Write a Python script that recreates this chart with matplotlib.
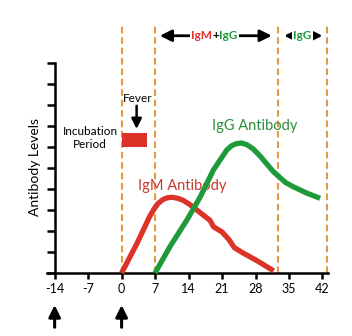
import matplotlib
matplotlib.use("Agg")
import matplotlib.pyplot as plt
from matplotlib.offsetbox import TextArea, HPacker, AnnotationBbox

# Antibody response timeline (days relative to symptom onset)
igm_days = [0, 3.2, 5.9, 6.8, 7.6, 8.7, 9.6, 10.6, 11.8, 12.9, 14.3, 15.7, 18.5,
            19.2, 21.0, 22.4, 23.6, 25.4, 28.2, 31.8]
igm_level = [0, 1.4, 2.7, 3.05, 3.3, 3.5, 3.58, 3.6, 3.55, 3.45, 3.25, 3.0, 2.5,
             2.2, 1.95, 1.6, 1.2, 0.95, 0.6, 0.1]

igg_days = [7, 10.1, 13.6, 16.4, 19.2, 22.0, 23.0, 24.0, 25.1, 26.2, 27.5, 29.0,
            30.3, 31.6, 32.8, 34.3, 35.9, 38.7, 41.5]
igg_level = [0, 1.25, 2.5, 3.6, 4.9, 5.85, 6.05, 6.15, 6.18, 6.1, 5.9, 5.55,
             5.2, 4.85, 4.6, 4.3, 4.1, 3.8, 3.55]

x_ticks = [-14, -7, 0, 7, 14, 21, 28, 35, 42]
y_ticks = list(range(0, 11))
phase_bounds = [0, 7, 32.6, 42.9]
fever_span = (0, 5.4)
fever_band = (6.0, 6.64)

RED = "#DC3328"
GREEN = "#1F9A3B"
DASH = "#E49A45"
SANS = ["Lato", "DejaVu Sans"]

plt.rcParams["font.family"] = SANS

fig = plt.figure(figsize=(3.52, 3.36), dpi=100)
ax = fig.add_axes([0.1335, 0.1875, 0.7989, 0.7512])
ax.set_xlim(-15.6, 43.2)
ax.set_ylim(0, 12)

# phase boundaries
for xb in phase_bounds:
    ax.plot([xb, xb], [0, 11.8], color=DASH, lw=1.5, ls=(0, (3.2, 1.8)), zorder=1)

# antibody curves
ax.plot(igm_days, igm_level, color=RED, lw=3.8, solid_joinstyle="round",
        solid_capstyle="butt", clip_on=False, zorder=3)
ax.plot(igg_days, igg_level, color=GREEN, lw=3.8, solid_joinstyle="round",
        solid_capstyle="butt", clip_on=False, zorder=4)

# fever period bar and arrow
ax.fill_between(fever_span, fever_band[0], fever_band[1], color=RED, lw=0, zorder=3)
ax.annotate("", xy=(3.14, 6.85), xytext=(3.14, 7.95),
            arrowprops=dict(arrowstyle="-|>,head_length=0.6,head_width=0.3",
                            color="black", lw=1.8, shrinkA=0, shrinkB=0,
                            mutation_scale=10))
ax.text(3.3, 8.3, "Fever", ha="center", va="center", fontsize=8.5, color="black")
ax.text(-6.6, 6.42, "Incubation\nPeriod", ha="center", va="center", fontsize=8.5,
        color="black", linespacing=1.2)

# curve labels
ax.text(12.6, 4.14, "IgM Antibody", ha="center", va="center", fontsize=10.5,
        color="#C9382D")
ax.text(27.8, 7.0, "IgG Antibody", ha="center", va="center", fontsize=10.5,
        color="#2E8E3C")

# phase arrows along the top
arrow_kw = dict(arrowstyle="-|>,head_length=0.7,head_width=0.35", color="black",
                lw=2.0, shrinkA=0, shrinkB=0, mutation_scale=10)
ytop = 11.28
for start, end in [(14.4, 8.0), (24.2, 31.4), (36.0, 34.0), (39.5, 42.0)]:
    ax.annotate("", xy=(end, ytop), xytext=(start, ytop), arrowprops=arrow_kw,
                annotation_clip=False, zorder=2)

def colored_label(parts, x, y):
    boxes = [TextArea(t, textprops=dict(color=c, fontsize=8.5, fontweight="bold"))
             for t, c in parts]
    pack = HPacker(children=boxes, align="center", pad=0, sep=0)
    ab = AnnotationBbox(pack, (x, y), frameon=True, box_alignment=(0.5, 0.5),
                        pad=0.1, annotation_clip=False,
                        bboxprops=dict(facecolor="white", edgecolor="none"))
    ab.set_zorder(5)
    ax.add_artist(ab)

colored_label([("IgM", RED), ("+", "black"), ("IgG", GREEN)], 19.36, ytop)
colored_label([("IgG", GREEN)], 37.8, ytop)

# axes styling
for s in ["top", "right"]:
    ax.spines[s].set_visible(False)
ax.spines["left"].set_position(("data", -14))
ax.spines["left"].set_bounds(0, 10)
ax.spines["left"].set_linewidth(1.8)
ax.spines["bottom"].set_linewidth(1.8)
ax.set_xticks(x_ticks)
ax.set_xticklabels([str(v) for v in x_ticks])
ax.set_yticks(y_ticks)
ax.set_yticklabels([])
ax.tick_params(axis="x", direction="out", length=4.5, width=1.8, labelsize=9, pad=3)
ax.tick_params(axis="y", direction="out", length=5.8, width=1.8)
ax.set_ylabel("Antibody Levels", fontsize=10)
ax.yaxis.set_label_coords(-0.02, 0.42)

# markers under the time axis
for xd in [-14, 0]:
    ax.annotate("", xy=(xd, -0.127), xytext=(xd, -0.215),
                xycoords=ax.get_xaxis_transform(), textcoords=ax.get_xaxis_transform(),
                arrowprops=dict(arrowstyle="-|>,head_length=0.7,head_width=0.35",
                                color="black", lw=2.2, shrinkA=0, shrinkB=0,
                                mutation_scale=10),
                annotation_clip=False)

fig.savefig("out.png", dpi=100)
